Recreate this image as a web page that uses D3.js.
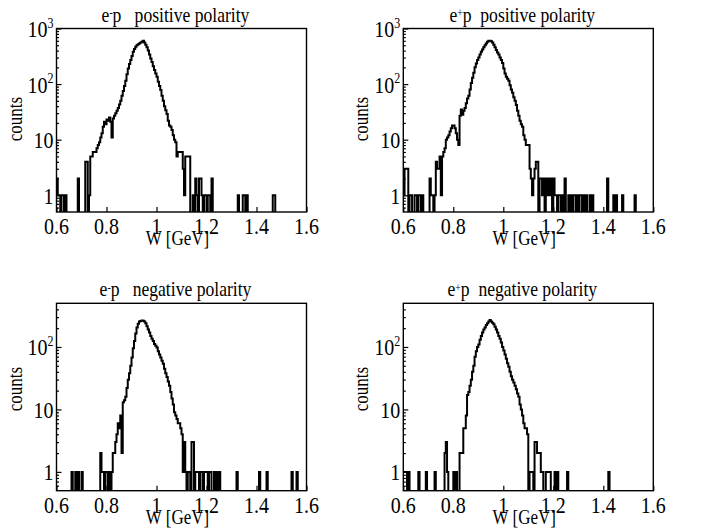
<!DOCTYPE html>
<html><head><meta charset="utf-8">
<script src="https://cdn.jsdelivr.net/npm/d3@7"></script>
<style>body{margin:0;background:#fff}svg{display:block}</style>
</head><body>
<svg id="c" width="701" height="529"></svg>
<script>
// ---------- data ----------
const binStart = 0.6;
const binWidth = 0.005;
const titleLead = ["e", "e", "e", "e"];
const titleCharge = ["-", "+", "-", "+"];
const titleRest = ["p\u00A0\u00A0\u00A0positive polarity", "p\u00A0\u00A0positive polarity",
                   "p\u00A0\u00A0\u00A0negative polarity", "p\u00A0\u00A0negative polarity"];
const xLabel = "W [GeV]";
const yLabel = "counts";
const xTickValues = [0.6, 0.8, 1.0, 1.2, 1.4, 1.6];
const xTickLabels = ["0.6", "0.8", "1", "1.2", "1.4", "1.6"];
const yDomainTop = [0.5, 1000];
const yDomainBottom = [0.5, 500];
const yMajorTop = [1, 10, 100, 1000];
const yMajorBottom = [1, 10, 100];
const yLabelBase = ["1", "10", "10", "10"];
const yLabelSup = ["", "", "2", "3"];

// e- p, positive polarity (bins of 0.005 GeV from 0.6)
const countsEmPos = [
  2,1,1,0,1,1,0,1,0,0, 0,0,0,0,0,0,0,2,0,0,
  0,0,0,4,4,0,1,5,5,6, 6,6,7,8,9,11,13,17,21,19,
  23,22,25,21,11,24,27,30,33,37, 43,50,62,75,92,115,150,190,230,270,
  320,380,430,470,500,520,540,560,580,600, 560,510,460,400,340,290,250,210,180,155,
  135,110,92,78,62,50,40,34,29,22, 18,17,15,12,10,9,5,6,6,6,
  6,3,1,5,5,5,5,0,0,1, 0,2,1,0,2,2,1,0,1,1,
  0,1,1,0,2,0,0,0,0,0, 0,0,0,0,0,0,0,0,0,0,
  0,0,0,0,0,1,0,0,0,1, 1,0,1,0,0,0,0,0,0,0,
  0,0,0,0,0,0,0,0,0,0, 0,0,0,1,1,0,0,0,0,0,
  0,0,0,0,0,0,0,0,0,0, 0,0,0,0,0,0,0,0,0,0
];
// e+ p, positive polarity
const countsEpPos = [
  1,3,3,3,0,1,1,0,0,1, 1,0,1,1,0,1,0,0,0,0,
  0,2,1,1,0,1,4,3,3,5, 1,5,6,7,10,11,12,14,16,18,
  18,16,13,10,8,27,35,28,33,37, 45,55,62,80,105,130,160,200,235,270,
  300,340,380,420,460,500,540,580,600,600, 590,560,510,460,410,370,340,300,270,240,
  190,155,135,125,115,95,80,70,58,50, 42,33,27,22,19,17,12,10,8,8,
  8,3,2,1,2,3,4,4,0,2, 2,1,2,0,2,1,2,1,2,0,
  2,1,1,0,1,1,0,1,0,2, 0,0,1,0,1,0,1,1,0,1,
  0,1,1,0,1,0,1,0,0,1, 0,1,0,0,0,0,0,0,0,0,
  0,0,0,2,0,0,0,0,1,0, 1,0,0,0,0,1,0,0,0,0,
  0,0,0,0,0,1,0,0,0,0, 0,0,0,0,0,0,0,0,0,0
];
// e- p, negative polarity
const countsEmNeg = [
  0,0,0,0,0,0,0,0,0,0, 0,0,1,0,0,1,0,1,0,0,
  1,0,0,0,0,0,0,0,0,0, 0,0,0,0,0,2,1,1,0,1,
  1,0,1,0,1,2,2,3,4,6, 5,8,2,13,14,16,22,30,38,50,
  68,95,125,165,205,235,255,260,265,262, 255,240,215,190,170,150,135,125,112,105,
  98,85,76,68,60,54,45,38,33,28, 24,19,15,12,9,8,7,6,6,5,
  4,1,3,1,0,1,1,0,3,3, 0,1,1,1,0,1,1,0,1,1,
  1,0,1,1,0,0,1,0,1,0, 1,0,0,0,0,0,0,0,0,0,
  0,0,0,0,1,0,0,0,0,0, 0,0,0,0,0,0,0,0,0,0,
  0,0,1,0,0,0,0,0,1,0, 0,0,0,0,0,0,0,0,0,0,
  0,0,0,0,0,0,0,0,1,0, 0,0,1,0,0,0,0,0,0,0
];
// e+ p, negative polarity
const countsEpNeg = [
  1,1,1,0,1,0,0,0,0,0, 0,0,1,0,0,0,0,0,1,0,
  0,0,0,0,0,1,0,0,0,0, 0,0,0,2,3,1,0,0,0,0,
  1,0,1,0,0,2,2,2,5,5, 8,17,19,24,30,40,50,70,85,100,
  110,130,150,170,190,205,225,240,255,270, 255,245,230,210,190,170,150,135,118,100,
  88,76,65,55,48,40,34,30,27,24, 21,18,16,12,10,8,6,5,5,4,
  0,1,1,1,0,3,3,2,2,2, 1,1,0,0,1,1,1,1,0,0,
  0,1,0,1,0,0,0,0,0,0, 0,1,0,0,0,0,0,0,0,0,
  0,0,0,0,0,0,0,0,0,0, 0,0,0,0,0,0,0,0,0,0,
  0,0,0,0,1,0,0,0,0,0, 0,0,0,0,0,0,0,0,0,0,
  0,0,0,0,0,0,0,0,0,0, 0,0,0,0,0,0,0,0,0,0
];

// ---------- layout ----------
const FONT = '"Liberation Serif", "Times New Roman", serif';
const K = 1.2; // vertical text stretch of the reference
const panels = [
  {x0: 56.5, x1: 306.5, y0: 28.5, y1: 212, counts: countsEmPos, dom: yDomainTop, major: yMajorTop, cy: 119},
  {x0: 403.3, x1: 653.3, y0: 28.5, y1: 212, counts: countsEpPos, dom: yDomainTop, major: yMajorTop, cy: 119},
  {x0: 56.5, x1: 306.5, y0: 303.3, y1: 490.7, counts: countsEmNeg, dom: yDomainBottom, major: yMajorBottom, cy: 389},
  {x0: 403.3, x1: 653.3, y0: 303.3, y1: 490.7, counts: countsEpNeg, dom: yDomainBottom, major: yMajorBottom, cy: 389}
];

const svg = d3.select("#c");
svg.append("rect").attr("width", 701).attr("height", 529).attr("fill", "#fff");

// text of nominal size f, stretched vertically by K while keeping its natural width
function makeText(parent, f) {
  return parent.append("text").style("font-family", FONT).style("font-size", f + "px").attr("fill", "#000");
}
function stretch(t, f) {
  const w = t.node().getComputedTextLength();
  t.style("font-size", (f * K) + "px").attr("textLength", w).attr("lengthAdjust", "spacingAndGlyphs");
  return t;
}

panels.forEach((p, pi) => {
  const x = d3.scaleLinear().domain([0.6, 1.6]).range([p.x0, p.x1]);
  const y = d3.scaleLog().domain(p.dom).range([p.y1, p.y0]);
  const g = svg.append("g");

  const clipId = "clip" + pi;
  g.append("clipPath").attr("id", clipId).append("rect")
    .attr("x", p.x0).attr("y", p.y0).attr("width", p.x1 - p.x0).attr("height", p.y1 - p.y0);

  // histogram
  const pts = p.counts.map((c, i) => [binStart + i * binWidth, c]);
  pts.push([binStart + p.counts.length * binWidth, p.counts[p.counts.length - 1]]);
  const line = d3.line()
    .x(d => x(d[0]))
    .y(d => d[1] > 0 ? y(d[1]) : p.y1 + 2)
    .curve(d3.curveStepAfter);
  g.append("path").attr("d", line(pts))
    .attr("clip-path", `url(#${clipId})`)
    .attr("fill", "none").attr("stroke", "#000").attr("stroke-width", 2)
    .attr("stroke-linejoin", "miter");

  // y ticks (minor + major), x ticks, all pointing inward
  const minors = [];
  [0.1, 1, 10, 100].forEach(dec => {
    for (let m = 2; m <= 9; m++) {
      const v = dec * m;
      if (v > p.dom[0] && v < p.dom[1]) minors.push(v);
    }
  });
  g.append("g").attr("transform", `translate(${p.x0},0)`)
    .call(d3.axisLeft(y).tickValues(minors).tickSize(-2.5).tickFormat(""))
    .call(a => a.select(".domain").remove());
  g.append("g").attr("transform", `translate(${p.x0},0)`)
    .call(d3.axisLeft(y).tickValues(p.major).tickSize(-5).tickFormat(""))
    .call(a => a.select(".domain").remove());
  g.append("g").attr("transform", `translate(0,${p.y1})`)
    .call(d3.axisBottom(x).tickValues(xTickValues).tickSize(-5).tickFormat(""))
    .call(a => a.select(".domain").remove());
  g.selectAll(".tick line").attr("stroke-width", 1.2);

  // frame
  g.append("rect").attr("x", p.x0).attr("y", p.y0)
    .attr("width", p.x1 - p.x0).attr("height", p.y1 - p.y0)
    .attr("fill", "none").attr("stroke", "#000").attr("stroke-width", 1.4);

  // y tick labels
  p.major.forEach((v, i) => {
    const t = makeText(g, 20).attr("x", p.x0 - 3).attr("y", y(v) + 8.5).attr("text-anchor", "end");
    t.append("tspan").text(yLabelBase[i]);
    if (yLabelSup[i]) t.append("tspan").style("font-size", "0.6em").attr("dy", "-0.65em").text(yLabelSup[i]);
    stretch(t, 20);
  });

  // x tick labels
  xTickValues.forEach((v, i) => {
    stretch(makeText(g, 20).attr("x", x(v)).attr("y", p.y1 + 22).attr("text-anchor", "middle")
      .text(xTickLabels[i]), 20);
  });

  // x axis title
  stretch(makeText(g, 17).attr("x", (p.x0 + p.x1) / 2 - 4).attr("y", p.y1 + 33).attr("text-anchor", "middle")
    .text(xLabel), 17);

  // y axis title
  stretch(makeText(g.append("g").attr("transform", `translate(${p.x0 - 35},${p.cy}) rotate(-90)`), 17)
    .attr("text-anchor", "middle").text(yLabel), 17);

  // panel title
  const tt = makeText(g, 17.6).attr("x", (p.x0 + p.x1) / 2 - 6).attr("y", p.y0 - 7).attr("text-anchor", "middle");
  tt.append("tspan").text(titleLead[pi]);
  tt.append("tspan").style("font-size", "0.55em").attr("dy", "-0.4em").text(titleCharge[pi]);
  tt.append("tspan").attr("dy", "0.22em").text(titleRest[pi]);
  stretch(tt, 17.6);
});
</script>
</body></html>
